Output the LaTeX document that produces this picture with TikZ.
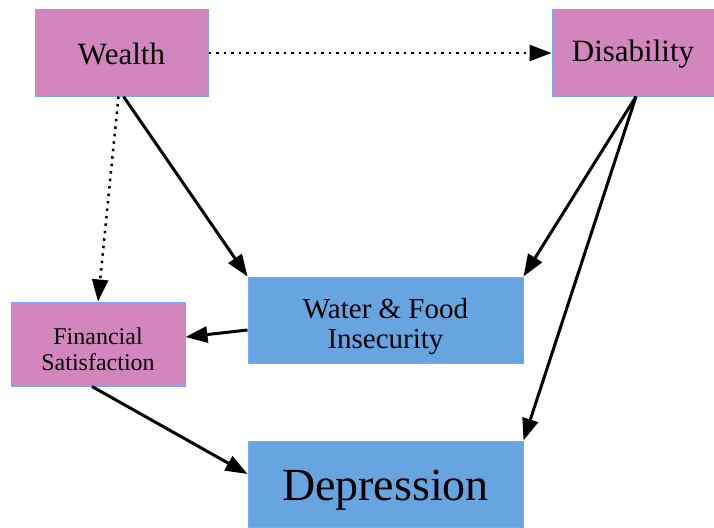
\documentclass[tikz,border=0pt]{standalone}
\usepackage{fontspec}
\setmainfont{Liberation Serif}
\usetikzlibrary{arrows.meta}
\definecolor{pinkbox}{HTML}{D386BD}
\definecolor{bluebox}{HTML}{66A5E0}
\definecolor{edgeblue}{HTML}{72AAFF}
\tikzset{
  pbox/.style={draw=edgeblue, line width=1pt, fill=pinkbox, inner sep=0pt},
  bbox/.style={draw=edgeblue, line width=1pt, fill=bluebox, inner sep=0pt},
  txt/.style={inner sep=0pt, align=center},
  solidarrow/.style={line width=3pt, -{Triangle[length=22pt,width=16pt]}},
  dotarrow/.style={line width=2.5pt, dash pattern=on 2.5pt off 5pt, -{Triangle[length=22pt,width=16pt]}}
}
\begin{document}
\begin{tikzpicture}[x=1pt,y=-1pt]
\useasboundingbox (0,0) rectangle (714,527);
\node[pbox, minimum width=173pt, minimum height=86pt] (wealth) at (121.5,53) {};
\node[pbox, minimum width=162pt, minimum height=86pt] (dis) at (633,53) {};
\node[pbox, minimum width=174pt, minimum height=84pt] (fin) at (98,344) {};
\node[bbox, minimum width=275pt, minimum height=86pt] (water) at (385.5,320) {};
\node[bbox, minimum width=275pt, minimum height=86pt] (dep) at (385.5,484) {};
\node[txt, font=\fontsize{31}{31}\selectfont] (wealthtxt) at ([yshift=-1pt]wealth.center) {Wealth};
\node[txt, font=\fontsize{31}{31}\selectfont] (distxt) at ([yshift=-1pt]dis.center) {Disability};
\node[txt, font=\fontsize{24}{26}\selectfont] (fintxt) at ([yshift=-5pt]fin.center) {Financial\\Satisfaction};
\node[txt, font=\fontsize{29}{30}\selectfont] (watertxt) at ([yshift=-7pt]water.center) {Water \& Food\\Insecurity};
\node[txt, font=\fontsize{46}{46}\selectfont] (deptxt) at ([yshift=-6pt]dep.center) {Depression};
\draw[dotarrow] (wealth.east) -- (dis.west);
\draw[dotarrow] ([xshift=-3pt]wealth.south) -- (fin.north);
\draw[solidarrow] ([xshift=2pt]wealth.south) -- (water.north west);
\draw[solidarrow] ([xshift=3pt]dis.south) -- (water.north east);
\draw[solidarrow] ([xshift=3pt]dis.south) -- (dep.north east);
\draw[solidarrow] ([yshift=-10pt]water.west) -- ([yshift=7pt]fin.east);
\draw[solidarrow] ([xshift=-6pt]fin.south) -- ([yshift=10pt]dep.west);
\end{tikzpicture}
\end{document}
